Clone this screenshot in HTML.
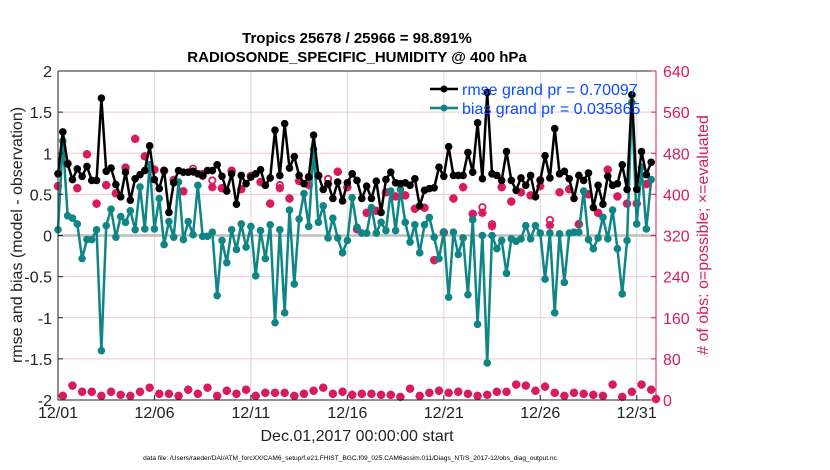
<!DOCTYPE html>
<html><head><meta charset="utf-8"><style>
html,body{margin:0;padding:0;background:#fff;width:830px;height:470px;overflow:hidden}
svg{display:block;font-family:"Liberation Sans",Arial,sans-serif}
</style></head><body>
<svg id="chart" width="830" height="470" viewBox="0 0 830 470" xmlns="http://www.w3.org/2000/svg">
<g id="grid"></g>
<g id="series"></g>
<g id="axes"></g>
<text x="357" y="43" text-anchor="middle" font-size="15" font-weight="bold">Tropics 25678 / 25966 = 98.891%</text>
<text x="357" y="62" text-anchor="middle" font-size="15" font-weight="bold">RADIOSONDE_SPECIFIC_HUMIDITY @ 400 hPa</text>
<text transform="translate(22,235) rotate(-90)" text-anchor="middle" font-size="16" fill="#222">rmse and bias (model - observation)</text>
<text transform="translate(708,235) rotate(-90)" text-anchor="middle" font-size="16" fill="#d81b60">
# of obs: o=possible; ×=evaluated</text>
<text x="357" y="441" text-anchor="middle" font-size="16" fill="#222">Dec.01,2017 00:00:00 start</text>
<text x="350" y="460" text-anchor="middle" font-size="6.6" fill="#000">data file: /Users/raeder/DAI/ATM_forcXX/CAM6_setup/f.e21.FHIST_BGC.f09_025.CAM6assim.011/Diags_NTrS_2017-12/obs_diag_output.nc</text>
<g>
<g>
<line x1="430" y1="89" x2="458" y2="89" stroke="#000" stroke-width="2.5"/><circle cx="444" cy="89" r="3.5" fill="#000"/>
<text x="462" y="95" font-size="16" fill="#0b4dff">rmse grand pr = 0.70097</text></g>
<g>
<line x1="430" y1="108" x2="458" y2="108" stroke="#0f8585" stroke-width="2.5"/><circle cx="444" cy="108" r="3.5" fill="#0f8585"/>
<text x="462" y="114" font-size="16" fill="#0b4dff">bias grand pr = 0.035865</text></g>
</g>
</svg>
<script>
// ---- data ----
const xTickLabels = ["12/01","12/06","12/11","12/16","12/21","12/26","12/31"];
const xTickDays = [0,5,10,15,20,25,30];
const yTickValues = [-2,-1.5,-1,-0.5,0,0.5,1,1.5,2];
const yTickLabels = ["-2","-1.5","-1","-0.5","0","0.5","1","1.5","2"];
const obsTickValues = [0,80,160,240,320,400,480,560,640];
const rmse = [0.75,1.26,0.87,0.68,0.81,0.72,0.84,0.67,0.67,1.67,0.78,0.82,0.62,0.47,0.77,0.43,0.69,0.74,0.79,1.09,0.68,0.57,0.79,0.28,0.64,0.79,0.77,0.77,0.78,0.75,0.73,
0.79,0.79,0.86,0.72,0.54,0.75,0.38,0.73,0.63,0.71,0.75,0.80,0.61,0.70,1.28,0.73,1.36,0.82,0.96,0.73,0.63,0.71,1.22,0.73,0.56,0.63,0.45,0.65,0.42,0.64,0.75,
0.67,0.45,0.60,0.45,0.66,0.28,0.68,0.77,0.64,0.63,0.64,0.61,0.69,0.36,0.55,0.57,0.58,0.83,0.72,1.08,0.73,0.73,0.73,1.01,0.77,1.37,0.69,1.74,0.75,0.73,0.67,
1.02,0.67,0.55,0.70,0.61,0.73,0.47,0.67,0.97,0.70,1.30,0.75,0.78,0.69,0.45,0.73,0.67,0.76,0.34,0.61,0.38,0.72,0.61,0.63,0.86,0.56,1.71,0.56,1.02,0.74,0.89];
const bias = [0.07,1.15,0.24,0.21,0.14,-0.28,-0.05,-0.05,0.07,-1.40,0.12,0.32,-0.02,0.23,0.16,0.30,0.07,0.59,0.08,0.86,0.08,0.45,-0.11,0.17,-0.02,0.65,-0.05,0.17,0.01,0.61,-0.01,
-0.01,0.04,-0.73,-0.06,-0.33,0.07,-0.17,0.14,-0.14,0.11,-0.49,0.06,-0.28,0.13,-1.06,0.07,-0.94,0.31,-0.59,0.20,0.51,0.11,1.05,0.16,0.36,-0.03,0.21,-0.03,-0.21,-0.06,0.46,
0.10,0.03,0.03,0.34,0.03,0.16,0.06,0.54,0.06,0.56,0.16,-0.08,0.13,-0.21,0.13,0.22,-0.02,-0.28,0.04,-0.75,0.04,-0.23,-0.03,-0.72,0.19,-1.08,0.00,-1.55,0.00,-0.16,-0.06,
-0.46,-0.04,-0.07,-0.04,0.12,-0.04,0.12,0.03,-0.53,0.03,-0.94,0.02,-0.57,0.03,0.04,0.04,0.54,-0.05,-0.16,-0.03,0.22,-0.04,0.31,-0.16,-0.71,-0.06,1.62,0.14,0.83,0.08,0.68];
const obsEvaluated = [416,8,460,28,412,16,478,16,382,8,418,16,402,10,452,8,508,16,474,24,448,12,446,12,428,8,406,20,444,12,436,24,
414,8,412,18,446,12,410,20,436,8,424,14,382,14,412,14,392,8,426,12,418,18,436,24,420,12,444,16,414,10,
332,12,364,12,368,10,404,10,396,6,398,22,372,8,374,14,272,18,326,14,392,16,414,12,362,8,364,10,338,16,
414,16,386,30,404,28,398,18,416,26,340,14,404,8,410,14,342,12,400,10,364,8,448,30,396,6,382,16,382,30,420,20,2];
const obsPossible = [416,8,460,28,412,16,478,16,382,8,418,16,402,10,452,8,508,16,474,24,448,12,446,12,428,8,406,20,450,12,440,24,
427,8,412,18,446,12,410,20,436,8,424,14,382,14,418,14,392,8,426,12,434,18,436,24,430,12,444,16,414,10,
332,12,364,12,368,10,404,10,396,6,398,22,372,8,374,14,272,18,326,14,392,16,414,12,362,8,375,10,342,16,
414,16,386,30,404,28,398,18,428,26,350,14,404,8,410,14,342,12,400,10,364,8,448,30,396,6,382,16,382,30,420,20,2];

// ---- scales ----
const X0=58, X1=656, Y0=71, Y1=400, NDAYS=31;
function xDay(d){return X0+(X1-X0)*d/NDAYS;}
function xIdx(i){return xDay(i*0.25);}
function yL(v){return Y1-(v+2)/4*(Y1-Y0);}
function yR(n){return Y1-n/640*(Y1-Y0);}
const NS="http://www.w3.org/2000/svg";
function mk(tag,attrs,parent){const e=document.createElementNS(NS,tag);for(const k in attrs)e.setAttribute(k,attrs[k]);parent.appendChild(e);return e;}
const grid=document.getElementById('grid'), ser=document.getElementById('series'), axes=document.getElementById('axes');

yTickValues.forEach(v=>{
  const l=mk('line',{x1:X0,x2:X1,y1:yL(v),y2:yL(v),stroke:'#f2c6d6','stroke-width':1},grid);
  
  
});
xTickDays.forEach(d=>{
  const l=mk('line',{x1:xDay(d),x2:xDay(d),y1:Y0,y2:Y1,stroke:'#d8d8d8','stroke-width':1},grid);
  
  
});
const zl=mk('line',{x1:X0,x2:X1,y1:yL(0),y2:yL(0),stroke:'#bdbdbd','stroke-width':2.5},grid);



function star(cx,cy,g){
  const s=4.2;
  mk('path',{d:`M${cx-s} ${cy}H${cx+s}M${cx} ${cy-s}V${cy+s}M${cx-s*0.7} ${cy-s*0.7}L${cx+s*0.7} ${cy+s*0.7}M${cx-s*0.7} ${cy+s*0.7}L${cx+s*0.7} ${cy-s*0.7}`,stroke:'#d81b60','stroke-width':2.4,fill:'none'},g);
  mk('circle',{cx:cx,cy:cy,r:3,fill:'#d81b60'},g);
}
obsPossible.forEach((n,i)=>{
  const c=mk('circle',{cx:xIdx(i),cy:yR(n),r:3.2,fill:'none',stroke:'#d81b60','stroke-width':1.8},ser);
  
  
});
obsEvaluated.forEach((n,i)=>{
  const g=mk('g',{},ser);
  
  
  star(xIdx(i),yR(n),g);
});

function drawLine(arr,color,name){
  const pts=arr.map((v,i)=>xIdx(i).toFixed(2)+','+yL(v).toFixed(2)).join(' ');
  const pl=mk('polyline',{points:pts,fill:'none',stroke:color,'stroke-width':2.5,'stroke-linejoin':'round'},ser);
  
  
  arr.forEach((v,i)=>{
    const c=mk('circle',{cx:xIdx(i),cy:yL(v),r:3.8,fill:color},ser);
    
    
  });
}
drawLine(bias,'#0f8585','bias');
drawLine(rmse,'#000','rmse');

const fr=mk('path',{d:`M${X0} ${Y0}H${X1}M${X0} ${Y0}V${Y1}H${X1}`,stroke:'#222','stroke-width':1,fill:'none'},axes);


const ra=mk('line',{x1:X1,x2:X1,y1:Y0,y2:Y1,stroke:'#d81b60','stroke-width':1},axes);


yTickValues.forEach((v,i)=>{
  mk('line',{x1:X0,x2:X0+5,y1:yL(v),y2:yL(v),stroke:'#222'},axes);
  const t=mk('text',{x:X0-6,y:yL(v)+6,'text-anchor':'end','font-size':16,fill:'#222'},axes);
  t.textContent=yTickLabels[i];
  
  
});
obsTickValues.forEach(n=>{
  mk('line',{x1:X1-5,x2:X1,y1:yR(n),y2:yR(n),stroke:'#d81b60'},axes);
  const t=mk('text',{x:X1+7,y:yR(n)+6,'font-size':16,fill:'#d81b60'},axes);
  t.textContent=String(n);
  
  
});
xTickDays.forEach((d,i)=>{
  mk('line',{x1:xDay(d),x2:xDay(d),y1:Y1,y2:Y1-5,stroke:'#222'},axes);
  const t=mk('text',{x:xDay(d),y:Y1+18,'text-anchor':'middle','font-size':16,fill:'#222'},axes);
  t.textContent=xTickLabels[i];
  
  
});
</script>
</body></html>
